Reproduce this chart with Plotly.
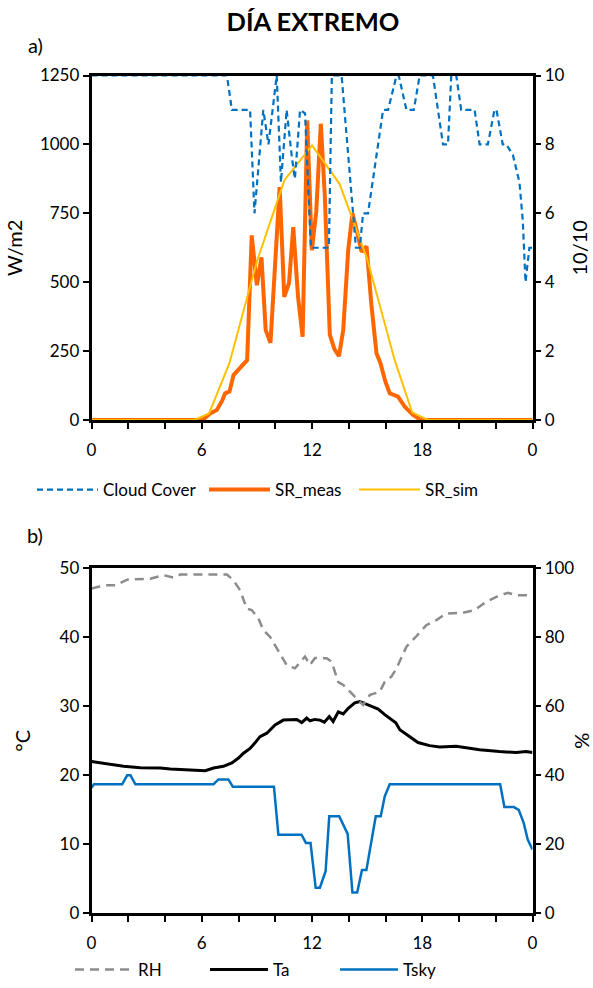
import plotly.graph_objects as go

# ---------------- data (a) ----------------
cloud_h = [0, 7.37, 7.64, 8.63, 8.87, 9.35, 9.63, 10.08, 10.31, 10.62, 10.91, 11.07, 11.35, 11.62,
           11.94, 12.92, 13.08, 13.61, 14.39, 14.6, 14.78, 15.05, 15.87, 16.14, 16.6, 16.72,
           17.14, 17.54, 17.86, 18.58, 19.13, 19.4, 19.58, 19.85, 20.12, 20.85, 21.12, 21.57,
           21.93, 22.04, 22.38, 22.57, 22.93, 23.29, 23.47, 23.62, 23.83, 24]
cloud_v = [10, 10, 9, 9, 6, 9, 8, 10, 6.9, 9, 7.6, 7.0, 9, 8.9,
           5, 5, 10, 10, 5, 5, 6, 6, 9, 9, 10, 10,
           9, 9, 10, 10, 8, 8, 10, 10, 9, 9, 8, 8,
           9, 9, 8, 8, 7.7, 6.9, 5.8, 4.0, 5.0, 5.0]

srm_h = [0, 5.92, 6.19, 6.46, 6.82, 7.11, 7.27, 7.51, 7.73, 8.11, 8.47, 8.72, 9.0, 9.25, 9.48,
         9.74, 10.24, 10.49, 10.75, 10.98, 11.24, 11.49, 11.74, 11.99, 12.23, 12.48, 12.7,
         12.97, 13.22, 13.47, 13.7, 13.97, 14.2, 14.46, 14.7, 14.97, 15.23, 15.51, 15.73,
         15.99, 16.23, 16.68, 17.05, 17.5, 17.86, 18.13, 24]
srm_v = [0, 0, 8, 24, 36, 70, 97, 103, 163, 190, 217, 670, 489, 590, 326,
         280, 845, 447, 497, 700, 447, 302, 1087, 616, 755, 1075, 810,
         310, 257, 232, 326, 616, 749, 680, 610, 630, 420, 242, 205,
         140, 97, 85, 48, 18, 3, 0, 0]

srs_h = [0, 5.6, 6.4, 7.5, 9.0, 10.5, 12.0, 13.5, 15.0, 16.5, 17.45, 18.3, 24]
srs_v = [0, 0, 24, 205, 575, 870, 996, 857, 585, 217, 28, 0, 0]

# ---------------- data (b) ----------------
rh_h = [0, 0.31, 0.85, 1.3, 1.94, 3.2, 3.93, 4.47, 4.83, 7.37, 7.73, 8.09, 8.45, 8.72, 9.08,
        9.35, 9.72, 10.26, 10.62, 11.07, 11.62, 11.89, 12.16, 12.8, 13.07, 13.43, 13.7,
        14.24, 14.78, 15.15, 15.69, 15.96, 16.32, 16.6, 17.14, 17.68, 18.22, 18.77, 19.31,
        20.21, 20.85, 21.48, 22.03, 22.65, 23.11, 24]
rh_v = [94.1, 94.6, 95.1, 95.1, 96.7, 97.0, 98.0, 97.3, 98.2, 98.2, 96.5, 93.6, 88.3, 87.9, 85.5,
        82.1, 80.1, 75.3, 72.0, 71.0, 74.4, 72.0, 74.0, 73.9, 72.9, 67.0, 66.2,
        63.3, 60.4, 63.3, 64.2, 67.1, 68.6, 71.0, 77.3, 80.3, 83.5, 85.0, 86.9,
        87.1, 87.9, 90.3, 91.7, 92.9, 92.2, 92.2]

ta_h = [0, 0.67, 1.75, 2.66, 3.75, 4.29, 5.37, 5.74, 6.19, 6.64, 7.18, 7.64, 8.0, 8.27, 8.63,
        8.9, 9.17, 9.54, 9.99, 10.44, 10.98, 11.17, 11.44, 11.71, 11.89, 12.16, 12.43, 12.67,
        12.94, 13.15, 13.43, 13.7, 13.97, 14.33, 14.6, 14.88, 15.24, 15.6, 15.96, 16.32,
        16.56, 16.78, 17.23, 17.77, 18.4, 18.95, 19.85, 21.12, 22.2, 23.11, 23.65, 24]
ta_v = [22.0, 21.7, 21.3, 21.1, 21.05, 20.9, 20.8, 20.66, 20.66, 21.05, 21.3, 21.8, 22.5, 23.2, 23.9,
        24.7, 25.6, 26.1, 27.3, 28.0, 28.1, 28.1, 27.65, 28.3, 27.9, 28.1, 28.0, 27.7,
        28.5, 27.8, 29.2, 28.9, 29.7, 30.5, 30.7, 30.4, 30.0, 29.6, 28.8, 28.0,
        27.6, 26.6, 25.7, 24.75, 24.3, 24.1, 24.2, 23.7, 23.45, 23.3, 23.45, 23.3]

tsky_h = [0, 0.13, 1.67, 1.94, 2.12, 2.39, 6.64, 6.91, 7.45, 7.69, 9.93, 10.17, 11.43, 11.67,
          11.92, 12.2, 12.43, 12.74, 12.94, 13.48, 13.94, 14.2, 14.46, 14.72, 14.96, 15.47,
          15.74, 15.96, 16.23, 22.24, 22.47, 22.98, 23.25, 23.52, 23.74, 24]
tsky_v = [18.2, 18.7, 18.7, 20.0, 20.0, 18.7, 18.7, 19.4, 19.4, 18.35, 18.35, 11.4, 11.4, 10.2,
          10.2, 3.7, 3.7, 6.1, 14.06, 14.06, 11.5, 3.0, 3.0, 6.26, 6.26, 14.06,
          14.06, 16.95, 18.7, 18.7, 15.4, 15.4, 15.0, 13.1, 10.7, 9.25]

x_tickvals = list(range(0, 25, 2))
x_ticktext = ["0", "", "", "6", "", "", "12", "", "", "18", "", "", "0"]
sr_ticks = [0, 250, 500, 750, 1000, 1250]

W, H = 593, 988
XD = [91.5 / W, 532.5 / W]
YD_A = [1 - 420 / H, 1 - 75.5 / H]
YD_B = [1 - 913.3 / H, 1 - 568.3 / H]
FS = 17

fig = go.Figure()
fig.add_trace(go.Scatter(x=cloud_h, y=cloud_v, name="Cloud Cover", mode="lines", xaxis="x", yaxis="y2",
                         line=dict(color="#0070C0", width=2.2, dash="6px,4px"), legend="legend"))
fig.add_trace(go.Scatter(x=srm_h, y=srm_v, name="SR_meas", mode="lines", xaxis="x", yaxis="y",
                         line=dict(color="#FF6600", width=4), legend="legend2"))
fig.add_trace(go.Scatter(x=srs_h, y=srs_v, name="SR_sim", mode="lines", xaxis="x", yaxis="y",
                         line=dict(color="#FFC000", width=2), legend="legend3"))
fig.add_trace(go.Scatter(x=rh_h, y=rh_v, name="RH", mode="lines", xaxis="x2", yaxis="y4",
                         line=dict(color="#8C8C8C", width=2.5, dash="9px,6px"), legend="legend4"))
fig.add_trace(go.Scatter(x=ta_h, y=ta_v, name="Ta", mode="lines", xaxis="x2", yaxis="y3",
                         line=dict(color="black", width=3), legend="legend5"))
fig.add_trace(go.Scatter(x=tsky_h, y=tsky_v, name="Tsky", mode="lines", xaxis="x2", yaxis="y3",
                         line=dict(color="#0070C0", width=2.5), legend="legend6"))

ax_common = dict(showline=True, linewidth=2.5, linecolor="black", ticks="outside", ticklen=6,
                 tickwidth=2, tickcolor="black", showgrid=False, zeroline=False,
                 automargin=False, tickfont=dict(size=FS))


def leg(px_x, px_y, iw=58):
    return dict(orientation="h", x=px_x / W, xanchor="left", y=1 - px_y / H, yanchor="middle",
                font=dict(size=FS), bgcolor="rgba(0,0,0,0)", itemwidth=iw)


fig.update_layout(
    width=W, height=H, margin=dict(l=0, r=0, t=0, b=0, autoexpand=False),
    paper_bgcolor="white", plot_bgcolor="white",
    font=dict(family="Lato", size=FS, color="black"),
    title=dict(text="<b>DÍA EXTREMO</b>", x=313 / W, xanchor="center", y=1 - 22 / H, yanchor="middle",
               font=dict(size=25.5)),
    xaxis=dict(domain=XD, anchor="y", range=[0, 24], tickvals=x_tickvals, ticktext=x_ticktext,
               mirror=True, ticklabelstandoff=7, **ax_common),
    yaxis=dict(domain=YD_A, anchor="x", range=[0, 1250], tickvals=sr_ticks,
               title=dict(text="W/m2", standoff=12), **ax_common),
    yaxis2=dict(overlaying="y", side="right", anchor="x", range=[0, 10], dtick=2,
                title=dict(text="10/10", standoff=10), **ax_common),
    xaxis2=dict(domain=XD, anchor="y3", range=[0, 24], tickvals=x_tickvals, ticktext=x_ticktext,
                mirror=True, ticklabelstandoff=7, **ax_common),
    yaxis3=dict(domain=YD_B, anchor="x2", range=[0, 50], dtick=10,
                title=dict(text="°C", standoff=24), **ax_common),
    yaxis4=dict(overlaying="y3", side="right", anchor="x2", range=[0, 100], dtick=20,
                title=dict(text="%", standoff=10), **ax_common),
    legend=leg(32, 490, 61),
    legend2=leg(204, 490, 61),
    legend3=leg(354, 490, 61),
    legend4=leg(70, 970),
    legend5=leg(205, 970),
    legend6=leg(335, 970),
    showlegend=True,
    annotations=[
        dict(text="a)", x=35 / W, y=1 - 45 / H, xref="paper", yref="paper", showarrow=False,
             font=dict(size=20), xanchor="center", yanchor="middle"),
        dict(text="b)", x=35 / W, y=1 - 535 / H, xref="paper", yref="paper", showarrow=False,
             font=dict(size=20), xanchor="center", yanchor="middle"),
    ],
)
fig.write_html("out.html")
